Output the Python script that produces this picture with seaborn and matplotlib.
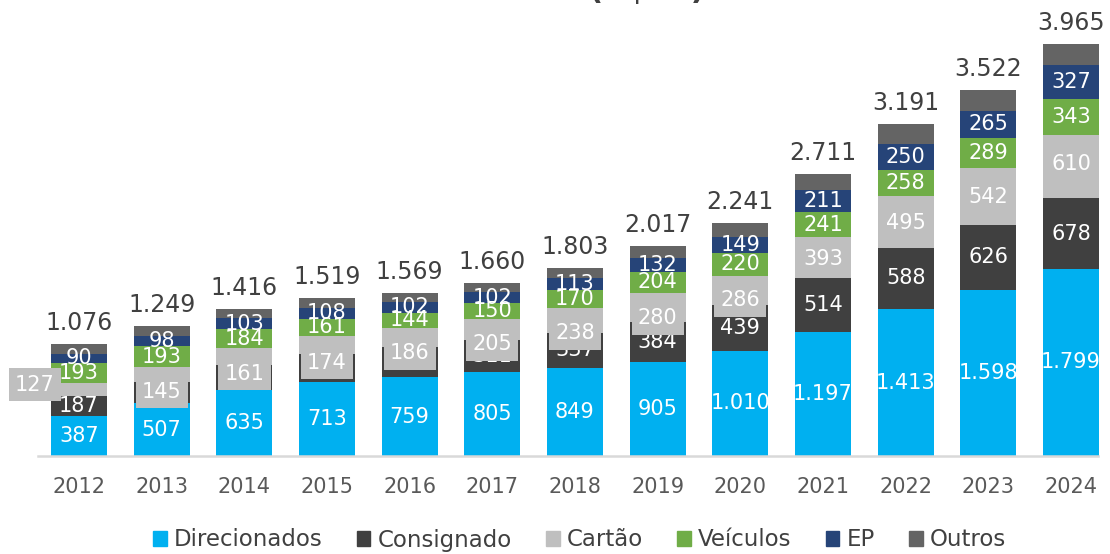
import matplotlib
matplotlib.use("Agg")
import matplotlib.pyplot as plt
import matplotlib.patches as mpatches
import seaborn as sns
import numpy as np
import pandas as pd

# carteira por produto (R$ bi)
anos = ['2012', '2013', '2014', '2015', '2016', '2017', '2018', '2019', '2020',
        '2021', '2022', '2023', '2024']
direcionados = [387, 507, 635, 713, 759, 805, 849, 905, 1010, 1197, 1413, 1598, 1799]
consignado = [187, 208, 240, 270, 288, 311, 337, 384, 439, 514, 588, 626, 678]
cartao = [127, 145, 161, 174, 186, 205, 238, 280, 286, 393, 495, 542, 610]
veiculos = [193, 193, 184, 161, 144, 150, 170, 204, 220, 241, 258, 289, 343]
ep = [90, 98, 103, 108, 102, 102, 113, 132, 149, 211, 250, 265, 327]
outros = [92, 98, 93, 93, 90, 87, 96, 112, 137, 155, 187, 202, 208]
totais = [1076, 1249, 1416, 1519, 1569, 1660, 1803, 2017, 2241, 2711, 3191, 3522, 3965]

series = ['Direcionados', 'Consignado', 'Cartão', 'Veículos', 'EP', 'Outros']
cores = ['#00B0F0', '#404040', '#BFBFBF', '#70AD47', '#264478', '#646464']

# deslocamento (px) dos rótulos do cartão, como no original
desl_cartao = [5, -18, -17, -18, -16, -15, -13, -11, -10, -1, -1, 0, 3]


def fmt(v):
    return f"{v:,}".replace(",", ".")


df = pd.DataFrame({'ano': anos, 'Direcionados': direcionados, 'Consignado': consignado,
                   'Cartão': cartao, 'Veículos': veiculos, 'EP': ep, 'Outros': outros})
cum = df[series].cumsum(axis=1)

sns.set_style("white")
plt.rcParams['font.family'] = ['DejaVu Sans']

fig = plt.figure(figsize=(11.1, 5.54), dpi=100)
ax = fig.add_axes([0, 98 / 554, 1, 456 / 554])

# barras empilhadas: do acumulado maior para o menor
for s, c in reversed(list(zip(series, cores))):
    sns.barplot(x=df['ano'], y=cum[s], color=c, width=0.68, ax=ax,
                saturation=1, linewidth=0)

ax.set_xlim(-79 / 82.67, 12 + 39 / 82.67)
ax.set_ylim(0, 456 / 0.104)
ax.set_xlabel('')
ax.set_ylabel('')
ax.set_yticks([])
sns.despine(ax=ax, left=True)
ax.spines['bottom'].set_color('#D9D9D9')
ax.spines['bottom'].set_linewidth(1.8)
ax.spines['bottom'].set_bounds(-0.5, 12.33)
ax.tick_params(axis='x', length=0, pad=15, labelsize=15, labelcolor='#595959')

px = 72 / 100  # 1 px em pontos

for i in range(len(anos)):
    base = 0
    for s in series:
        v = df[s][i]
        mid = base + v / 2
        if s in ('Direcionados', 'Consignado', 'Veículos', 'EP'):
            ax.text(i, mid, fmt(v), ha='center', va='center', color='white',
                    fontsize=15, zorder=5)
        elif s == 'Cartão':
            dx = -44 if i == 0 else 0
            ax.annotate(fmt(v), (i, mid), xytext=(dx * px, desl_cartao[i] * px),
                        textcoords='offset points', ha='center', va='center',
                        color='white', fontsize=15, zorder=6,
                        bbox=dict(boxstyle='square,pad=0.3', fc='#BFBFBF', ec='none'))
        base += v
    ax.annotate(fmt(totais[i]), (i, totais[i]), xytext=(0, 9 * px),
                textcoords='offset points', ha='center', va='bottom',
                color='#404040', fontsize=17)

# título cortado no topo da imagem
fig.text(705 / 1110, 1 + 1 / 554, 'Carteira de Crédito (R$ bi)', ha='right',
         va='baseline', fontsize=22, fontweight='bold', color='#404040')

handles = [mpatches.Patch(color=c, label=s) for s, c in zip(series, cores)]
fig.legend(handles=handles, loc='center', bbox_to_anchor=(0.522, 1 - 540 / 554),
           ncol=6, frameon=False, fontsize=16.5, handlelength=0.6, handleheight=0.6,
           handletextpad=0.3, columnspacing=1.5, labelcolor='#404040')

fig.savefig('out.png', dpi=100)
